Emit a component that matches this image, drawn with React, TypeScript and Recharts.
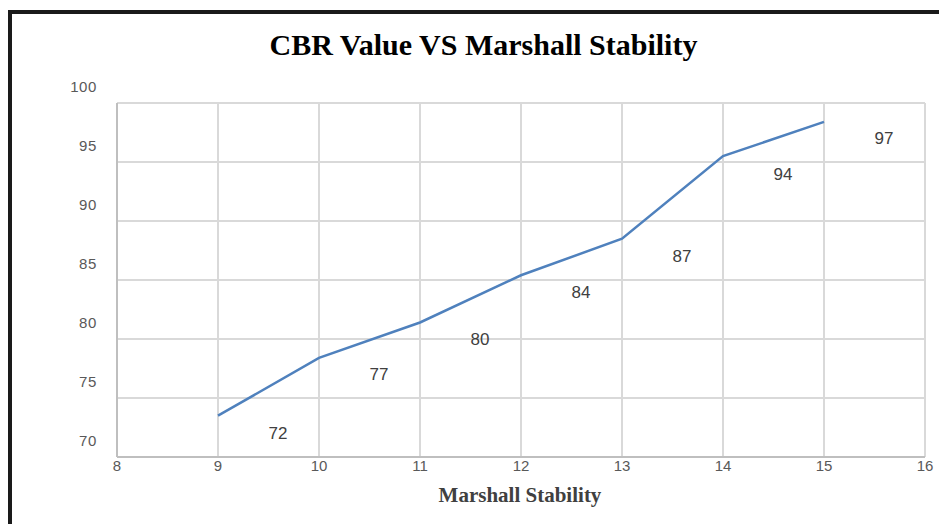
import React from "react";
import { LineChart, Line, XAxis, YAxis, CartesianGrid, LabelList } from "recharts";

// Marshall stability on the x axis
const stability = [9, 10, 11, 12, 13, 14, 15];
// CBR values printed as data labels
const cbrLabels = [72, 77, 80, 84, 87, 94, 97];
// where the plotted line actually sits in the picture
const cbrLine = [73.5, 78.4, 81.4, 85.4, 88.5, 95.5, 98.4];

const xTicks = [8, 9, 10, 11, 12, 13, 14, 15, 16];
const yTicks = [70, 75, 80, 85, 90, 95, 100];

const data = stability.map((s, i) => ({ s, line: cbrLine[i], label: cbrLabels[i] }));

const tickFont = "'Liberation Sans', Arial, sans-serif";
const serif = "'Liberation Serif', 'Times New Roman', serif";

function XTick({ x, y, payload }: any) {
  return (
    <text x={x} y={y + 14} textAnchor="middle" fontSize={15} fill="#595959" fontFamily={tickFont}>
      {payload.value}
    </text>
  );
}

function YTick({ x, y, payload }: any) {
  return (
    <text x={x - 20} y={y - 11.5} textAnchor="end" fontSize={15} fill="#595959" fontFamily={tickFont} letterSpacing={0.6}>
      {payload.value}
    </text>
  );
}

function ValueLabel({ x, y, value }: any) {
  return (
    <text x={x + 60} y={y + 6} textAnchor="middle" fontSize={17} fill="#404040" fontFamily={tickFont}>
      {value}
    </text>
  );
}

export default function App() {
  return (
    <div style={{ position: "relative", width: 939, height: 516, overflow: "hidden", background: "#fff" }}>
      <div
        style={{
          position: "absolute",
          left: 0,
          top: 2,
          width: 1000,
          height: 600,
          borderLeft: "4px solid #1a1a1a",
          borderTop: "4px solid #1a1a1a",
        }}
      />
      <div
        style={{
          position: "absolute",
          left: 0,
          top: 22,
          width: 951,
          textAlign: "center",
          fontFamily: serif,
          fontWeight: "bold",
          fontSize: 30,
          lineHeight: "30px",
          color: "#000",
        }}
      >
        CBR Value VS Marshall Stability
      </div>
      <div style={{ position: "absolute", left: 0, top: 0 }}>
        <LineChart width={939} height={516} data={data} margin={{ top: 95, right: 22, bottom: 27, left: 29 }}>
          <CartesianGrid stroke="#d9d9d9" strokeWidth={2} />
          <XAxis
            dataKey="s"
            type="number"
            domain={[8, 16]}
            ticks={xTicks}
            height={40}
            tickSize={0}
            tickMargin={0}
            stroke="#bfbfbf"
            strokeWidth={2}
            tick={<XTick />}
          />
          <YAxis
            type="number"
            domain={[70, 100]}
            ticks={yTicks}
            width={80}
            tickSize={0}
            tickMargin={0}
            stroke="#bfbfbf"
            strokeWidth={2}
            tick={<YTick />}
          />
          <Line
            dataKey="line"
            stroke="#4f81bd"
            strokeWidth={2.5}
            dot={false}
            isAnimationActive={false}
          />
          <Line dataKey="label" stroke="none" dot={false} isAnimationActive={false}>
            <LabelList dataKey="label" content={<ValueLabel />} />
          </Line>
        </LineChart>
      </div>
      <div
        style={{
          position: "absolute",
          left: 0,
          top: 477,
          width: 1024,
          textAlign: "center",
          fontFamily: serif,
          fontWeight: "bold",
          fontSize: 21,
          lineHeight: "21px",
          color: "#404040",
        }}
      >
        Marshall Stability
      </div>
    </div>
  );
}
